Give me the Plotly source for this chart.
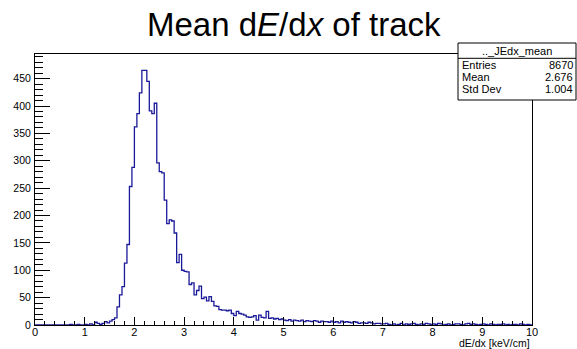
import plotly.graph_objects as go

# ---- data ----
bin_lo = 0.0
bin_width = 0.05
counts = [
    0, 0, 0, 0, 0, 0, 0, 0, 0, 0,
    0, 0, 0, 0, 1, 0, 0, 1, 0, 0,
    1, 0, 2, 0, 5, 3, 1, 3, 6, 4,
    7, 10, 13, 33, 55, 70, 113, 147, 253, 288,
    362, 386, 424, 465, 465, 445, 391, 386, 405, 296,
    280, 278, 228, 185, 192, 190, 168, 114, 129, 100,
    98, 97, 74, 77, 55, 63, 71, 48, 51, 44,
    52, 43, 35, 34, 28, 27, 27, 26, 27, 21,
    17, 25, 21, 20, 18, 15, 14, 15, 17, 9,
    18, 14, 13, 25, 12, 13, 11, 12, 10, 11,
    9, 8, 10, 7, 9, 8, 7, 9, 6, 8,
    7, 6, 8, 7, 5, 7, 6, 6, 5, 7,
    5, 6, 4, 7, 5, 6, 5, 4, 6, 5,
    3, 4, 4, 3, 5, 4, 2, 3, 3, 2,
    2, 3, 1, 0, 2, 0, 1, 3, 0, 2,
    1, 2, 3, 1, 0, 2, 1, 3, 2, 1,
    2, 1, 3, 2, 0, 1, 2, 0, 1, 2,
    2, 1, 0, 2, 3, 1, 2, 1, 0, 1,
    2, 1, 0, 2, 1, 0, 1, 1, 2, 0,
    1, 0, 1, 1, 0, 2, 1, 0, 1, 0,
]
hist_name = ".._JEdx_mean"
stat_labels = ["Entries", "Mean", "Std Dev"]
stat_values = ["8670", "2.676", "1.004"]
title_text = "Mean d<i>E</i>/d<i>x</i> of track"
xlabel = "dE/dx [keV/cm]"
x_range = [0, 10]
y_range = [0, 495]

# ---- build step outline ----
n = len(counts)
edges = [bin_lo + i * bin_width for i in range(n + 1)]
xs = [edges[0]] + edges
ys = [0] + counts + [counts[-1]]

W, H = 577, 349
ml, mr, mt, mb = 35, 45, 54, 24
pw, ph = W - ml - mr, H - mt - mb

def px(x):
    return (x - ml) / pw

def py(y):
    return (H - mb - y) / ph

fig = go.Figure()
fig.add_trace(go.Scatter(x=xs, y=ys, mode="lines", line=dict(color="#1a1a99", width=1.3, shape="hv"),
                         hoverinfo="skip", showlegend=False))

font = "Liberation Sans, Arial, sans-serif"
fig.update_layout(
    width=W, height=H, margin=dict(l=ml, r=mr, t=mt, b=mb, autoexpand=False),
    paper_bgcolor="white", plot_bgcolor="white",
    font=dict(family=font, color="black"),
    xaxis=dict(range=x_range, tick0=0, dtick=1, ticks="inside", ticklen=8, tickcolor="black", tickwidth=1,
               showline=True, linecolor="black", linewidth=1, mirror=True, showgrid=False, zeroline=False,
               automargin=False,
               tickfont=dict(size=11, family=font), ticklabelstandoff=-3,
               minor=dict(dtick=0.2, ticks="inside", ticklen=4, tickcolor="black", showgrid=False)),
    yaxis=dict(range=y_range, tick0=0, dtick=50, ticks="inside", ticklen=15, tickcolor="black", tickwidth=1,
               showline=True, linecolor="black", linewidth=1, mirror=True, showgrid=False, zeroline=False,
               automargin=False,
               tickfont=dict(size=10.5, family=font), ticklabelstandoff=1,
               minor=dict(dtick=10, ticks="inside", ticklen=7.5, tickcolor="black", showgrid=False)),
)

# title
fig.add_annotation(text=title_text, xref="paper", yref="paper", x=px(294), y=py(25),
                   xanchor="center", yanchor="middle", showarrow=False,
                   font=dict(size=33, family=font, color="black"))
# x axis label
fig.add_annotation(text=xlabel, xref="paper", yref="paper", x=px(532), y=py(342.5),
                   xanchor="right", yanchor="middle", showarrow=False,
                   font=dict(size=10.5, family=font, color="black"))

# stats box
bx0, bx1, by0, by1, bysep = 458, 576, 43, 100, 58.3
fig.add_shape(type="rect", xref="paper", yref="paper", x0=px(bx0), x1=px(bx1), y0=py(by1), y1=py(by0),
              fillcolor="white", line=dict(color="black", width=1), layer="above")
fig.add_shape(type="line", xref="paper", yref="paper", x0=px(bx0), x1=px(bx1), y0=py(bysep), y1=py(bysep),
              line=dict(color="black", width=1), layer="above")
fig.add_annotation(text=hist_name, xref="paper", yref="paper", x=px((bx0 + bx1) / 2), y=py(51),
                   xanchor="center", yanchor="middle", showarrow=False,
                   font=dict(size=11, family=font, color="black"))
row_y = [64.5, 76.5, 88.5]
for lab, val, yy in zip(stat_labels, stat_values, row_y):
    fig.add_annotation(text=lab, xref="paper", yref="paper", x=px(460), y=py(yy), xanchor="left",
                       yanchor="middle", showarrow=False, font=dict(size=11, family=font, color="black"))
    fig.add_annotation(text=val, xref="paper", yref="paper", x=px(575), y=py(yy), xanchor="right",
                       yanchor="middle", showarrow=False, font=dict(size=11, family=font, color="black"))

fig.write_html("out.html")
